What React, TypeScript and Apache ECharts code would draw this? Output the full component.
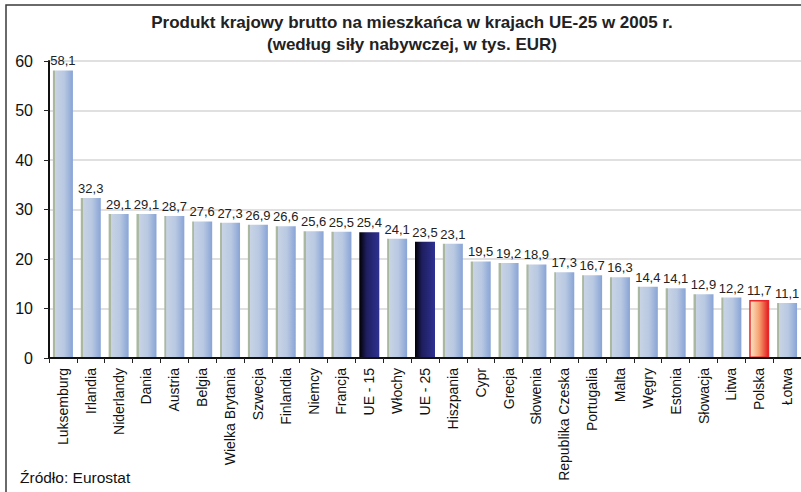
import React, { useEffect, useRef } from "react";
import * as echarts from "echarts";

const categories = [
  "Luksemburg", "Irlandia", "Niderlandy", "Dania", "Austria", "Belgia",
  "Wielka Brytania", "Szwecja", "Finlandia", "Niemcy", "Francja", "UE - 15",
  "Włochy", "UE - 25", "Hiszpania", "Cypr", "Grecja", "Słowenia",
  "Republika Czeska", "Portugalia", "Malta", "Węgry", "Estonia", "Słowacja",
  "Litwa", "Polska", "Łotwa",
];
const values = [
  58.1, 32.3, 29.1, 29.1, 28.7, 27.6, 27.3, 26.9, 26.6, 25.6, 25.5, 25.4,
  24.1, 23.5, 23.1, 19.5, 19.2, 18.9, 17.3, 16.7, 16.3, 14.4, 14.1, 12.9,
  12.2, 11.7, 11.1,
];
const euCategories = ["UE - 15", "UE - 25"];
const highlightCategory = "Polska";
const yTicks = [0, 10, 20, 30, 40, 50, 60];

const titleLine1 = "Produkt krajowy brutto na mieszkańca w krajach UE-25 w 2005 r.";
const titleLine2 = "(według siły nabywczej, w tys. EUR)";
const sourceText = "Źródło: Eurostat";

const FONT = "Liberation Sans, Arial, sans-serif";

const lin = (stops: [number, string][]) =>
  new echarts.graphic.LinearGradient(
    0, 0, 1, 0,
    stops.map(([offset, color]) => ({ offset, color }))
  );

const normalFill = () =>
  lin([
    [0, "#a9b89f"],
    [0.1, "#a9b89f"],
    [0.11, "#c8d3e4"],
    [0.55, "#b9c9e2"],
    [1, "#88a4d6"],
  ]);
const euFill = () =>
  lin([
    [0, "#000000"],
    [0.35, "#1e1e5e"],
    [1, "#2e3192"],
  ]);
const plFill = () =>
  lin([
    [0, "#fde8c8"],
    [0.5, "#f6a070"],
    [1, "#e31e1e"],
  ]);

export default function App() {
  const ref = useRef<HTMLDivElement>(null);
  useEffect(() => {
    if (!ref.current) return;
    const chart = echarts.init(ref.current, undefined, { renderer: "svg" });
    const data = categories.map((c, i) => {
      if (euCategories.includes(c)) {
        return { value: values[i], itemStyle: { color: euFill() } };
      }
      if (c === highlightCategory) {
        return {
          value: values[i],
          itemStyle: { color: plFill(), borderColor: "#e8262a", borderWidth: 1.5 },
        };
      }
      return { value: values[i], itemStyle: { color: normalFill() } };
    });
    chart.setOption({
      animation: false,
      backgroundColor: "#ffffff",
      textStyle: { fontFamily: FONT },
      graphic: [
        {
          type: "rect",
          shape: { x: 6, y: 5, width: 1000, height: 1000 },
          style: { fill: "none", stroke: "#3a3a3a", lineWidth: 1.5 },
          silent: true,
          z: 100,
        },
        {
          type: "text",
          x: 412,
          y: 22,
          style: {
            text: titleLine1,
            fontSize: 17,
            fontWeight: "bold",
            fill: "#222",
            align: "center",
            verticalAlign: "middle",
            fontFamily: FONT,
          },
        },
        {
          type: "text",
          x: 412,
          y: 44,
          style: {
            text: titleLine2,
            fontSize: 17,
            fontWeight: "bold",
            fill: "#222",
            align: "center",
            verticalAlign: "middle",
            fontFamily: FONT,
          },
        },
        {
          type: "text",
          x: 20,
          y: 477,
          style: {
            text: sourceText,
            fontSize: 15.5,
            fill: "#111",
            align: "left",
            verticalAlign: "middle",
            fontFamily: FONT,
          },
        },
      ],
      grid: { left: 49, right: -5, top: 61, bottom: 134, containLabel: false },
      xAxis: {
        type: "category",
        data: categories,
        boundaryGap: true,
        axisLine: { show: true, lineStyle: { color: "#111", width: 2 } },
        axisTick: { show: true, interval: 0, length: 5, lineStyle: { color: "#222", width: 1 } },
        axisLabel: {
          interval: 0,
          rotate: 90,
          margin: 10,
          fontSize: 14,
          color: "#111",
          fontFamily: FONT,
        },
        z: 10,
      },
      yAxis: {
        type: "value",
        min: yTicks[0],
        max: yTicks[yTicks.length - 1],
        interval: 10,
        axisLine: { show: true, lineStyle: { color: "#111", width: 2 } },
        axisTick: { show: true, length: 5, lineStyle: { color: "#222", width: 1 } },
        axisLabel: {
          fontSize: 16,
          color: "#111",
          margin: 16,
          fontFamily: FONT,
        },
        splitLine: { show: true, lineStyle: { color: "#d6d6d6", width: 1.5 } },
      },
      series: [
        {
          type: "bar",
          data,
          barWidth: 20,
          label: {
            show: true,
            position: "top",
            distance: 3,
            fontSize: 13,
            color: "#222",
            fontFamily: FONT,
            formatter: (p: any) => String(p.value.toFixed(1)).replace(".", ","),
          },
        },
      ],
    });
    return () => chart.dispose();
  }, []);
  return (
    <div
      ref={ref}
      style={{ position: "fixed", left: 0, top: 0, width: 801, height: 492 }}
    />
  );
}
